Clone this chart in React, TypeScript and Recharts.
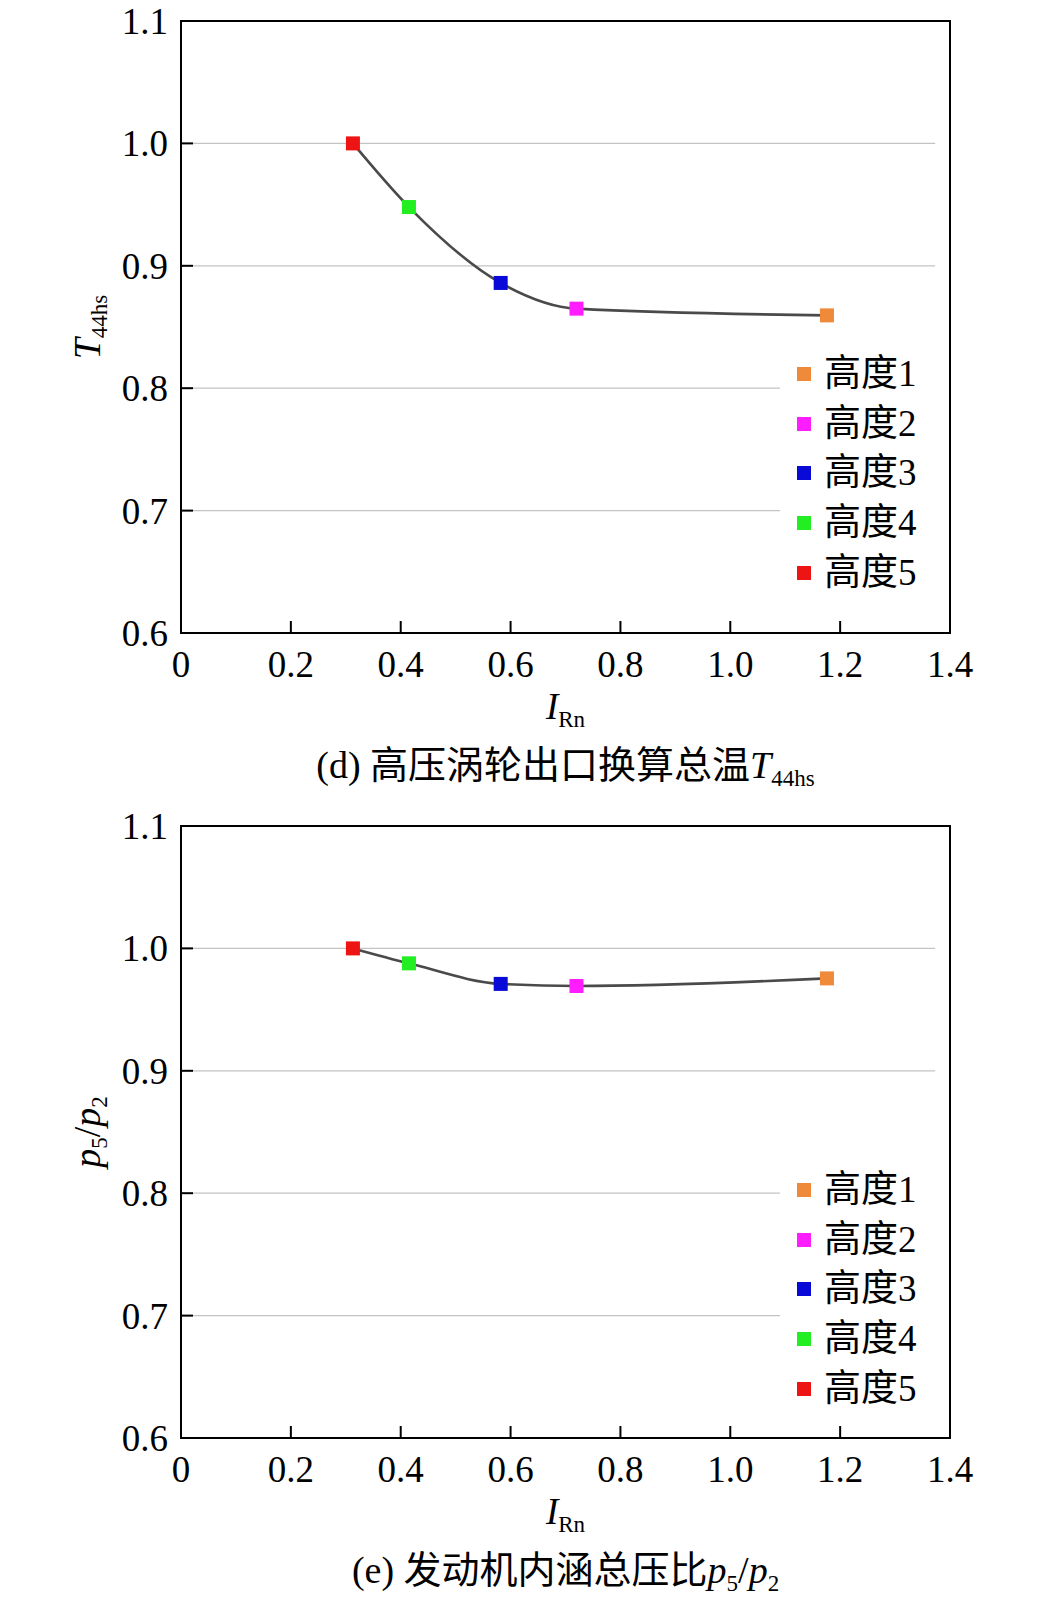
import React from 'react';
import { LineChart, Line, XAxis, YAxis, ReferenceLine, ReferenceArea, Legend } from 'recharts';

// altitude points, listed 高度1 .. 高度5
const altitudeNames = ['高度1', '高度2', '高度3', '高度4', '高度5'];
const altitudeColors = ['#ef8a3a', '#ff1cff', '#0a0ad8', '#22ee22', '#ee1414'];
const irnValues = [1.176, 0.72, 0.582, 0.415, 0.313];
const t44hsValues = [0.8595, 0.865, 0.886, 0.948, 1.0];
const p5p2Values = [0.9755, 0.9693, 0.971, 0.9878, 1.0];

const xTicks = [0, 0.2, 0.4, 0.6, 0.8, 1.0, 1.2, 1.4];
const yTicks = [0.6, 0.7, 0.8, 0.9, 1.0, 1.1];
const gridValues = [0.7, 0.8, 0.9, 1.0];

const FONT = '"Liberation Serif", "Noto Sans CJK SC", serif';
const GRID_END = 1.373;

const buildRows = (values: number[]) =>
  irnValues
    .map((x, i) => ({ x, y: values[i], color: altitudeColors[i] }))
    .sort((a, b) => a.x - b.x);

const XTick = (props: any) => {
  const { x, y, payload } = props;
  const v = payload.value as number;
  return (
    <g>
      <line x1={x} y1={y} x2={x} y2={y - 12} stroke="#000" strokeWidth={2} />
      <text x={x} y={y + 44} textAnchor="middle" fontSize={37} fontFamily={FONT} fill="#000">
        {v === 0 ? '0' : v.toFixed(1)}
      </text>
    </g>
  );
};

const YTick = (props: any) => {
  const { x, y, payload } = props;
  return (
    <g>
      <line x1={x} y1={y} x2={x + 12} y2={y} stroke="#000" strokeWidth={2} />
      <text x={x - 13} y={y + 13} textAnchor="end" fontSize={37} fontFamily={FONT} fill="#000">
        {(payload.value as number).toFixed(1)}
      </text>
    </g>
  );
};

const XTitle = (props: any) => {
  const vb = props.viewBox || { x: 181, y: 633, width: 769 };
  const cx = vb.x + vb.width / 2;
  return (
    <g fontFamily={FONT} fill="#000">
      <text x={cx} y={vb.y + 86} textAnchor="middle" fontSize={37}>
        <tspan fontStyle="italic">I</tspan>
        <tspan fontSize={23} dy={8}>Rn</tspan>
      </text>
      <text x={cx} y={vb.y + 145} textAnchor="middle" fontSize={38}>
        {props.caption}
      </text>
    </g>
  );
};

const YTitle = (props: any) => {
  const vb = props.viewBox || { x: 0, y: 21, width: 181, height: 612 };
  const bx = 100;
  const cy = vb.y + vb.height / 2;
  return (
    <text
      transform={`rotate(-90, ${bx}, ${cy})`}
      x={bx}
      y={cy}
      textAnchor="middle"
      fontSize={38}
      fontFamily={FONT}
      fill="#000"
    >
      {props.title}
    </text>
  );
};

const AltitudeLegend = () => (
  <div style={{ background: '#fff', width: 165 }}>
    {altitudeNames.map((name, i) => (
      <div key={name} style={{ display: 'flex', alignItems: 'center', height: 49.75 }}>
        <span
          style={{
            display: 'inline-block',
            width: 14,
            height: 14,
            background: altitudeColors[i],
            marginLeft: 17,
            marginRight: 13,
          }}
        />
        <span style={{ fontFamily: FONT, fontSize: 37, lineHeight: '40px', color: '#000' }}>{name}</span>
      </div>
    ))}
  </div>
);

const SquareDot = (props: any) => {
  const { cx, cy, payload, index } = props;
  return <rect key={`dot-${index}`} x={cx - 7} y={cy - 7} width={14} height={14} fill={payload.color} />;
};

interface PanelProps {
  values: number[];
  yTitle: React.ReactNode;
  caption: React.ReactNode;
  legendTop: number;
}

const Panel: React.FC<PanelProps> = ({ values, yTitle, caption, legendTop }) => (
  <LineChart
    width={1038}
    height={805}
    data={buildRows(values)}
    margin={{ top: 21, right: 88, left: 0, bottom: 0 }}
  >
    <XAxis
      dataKey="x"
      type="number"
      domain={[0, 1.4]}
      ticks={xTicks}
      interval={0}
      height={172}
      tickSize={0}
      tickMargin={0}
      tickLine={false}
      tick={<XTick />}
      axisLine={{ stroke: '#000', strokeWidth: 2 }}
      allowDataOverflow
      label={<XTitle caption={caption} />}
    />
    <YAxis
      type="number"
      domain={[0.6, 1.1]}
      ticks={yTicks}
      interval={0}
      width={181}
      tickSize={0}
      tickMargin={0}
      tickLine={false}
      tick={<YTick />}
      axisLine={{ stroke: '#000', strokeWidth: 2 }}
      allowDataOverflow
      label={<YTitle title={yTitle} />}
    />
    {gridValues.map((v) => (
      <ReferenceLine
        key={v}
        segment={[
          { x: 0, y: v },
          { x: GRID_END, y: v },
        ]}
        stroke="#c4c4c4"
        strokeWidth={1.2}
      />
    ))}
    <ReferenceArea x1={0} x2={1.4} y1={0.6} y2={1.1} fill="none" fillOpacity={0} stroke="#000" strokeWidth={2} />
    <Legend
      layout="horizontal"
      verticalAlign="middle"
      content={() => <AltitudeLegend />}
      wrapperStyle={{ left: 780, top: legendTop, width: 165 }}
    />
    <Line
      type="monotone"
      dataKey="y"
      stroke="#4a4a4a"
      strokeWidth={2.6}
      dot={SquareDot}
      activeDot={false}
      legendType="none"
      isAnimationActive={false}
    />
  </LineChart>
);

const subStyle = { fontSize: 23 };

export default function App() {
  return (
    <div style={{ position: 'absolute', left: 0, top: 0, width: 1038, background: '#fff' }}>
      <Panel
        values={t44hsValues}
        legendTop={349}
        yTitle={
          <>
            <tspan fontStyle="italic">T</tspan>
            <tspan {...subStyle} dy={7}>44hs</tspan>
          </>
        }
        caption={
          <>
            <tspan>(d) 高压涡轮出口换算总温</tspan>
            <tspan fontStyle="italic">T</tspan>
            <tspan {...subStyle} dy={8}>44hs</tspan>
          </>
        }
      />
      <Panel
        values={p5p2Values}
        legendTop={360}
        yTitle={
          <>
            <tspan fontStyle="italic">p</tspan>
            <tspan {...subStyle} dy={7}>5</tspan>
            <tspan dy={-7}>/</tspan>
            <tspan fontStyle="italic">p</tspan>
            <tspan {...subStyle} dy={7}>2</tspan>
          </>
        }
        caption={
          <>
            <tspan>(e) 发动机内涵总压比</tspan>
            <tspan fontStyle="italic">p</tspan>
            <tspan {...subStyle} dy={8}>5</tspan>
            <tspan dy={-8}>/</tspan>
            <tspan fontStyle="italic">p</tspan>
            <tspan {...subStyle} dy={8}>2</tspan>
          </>
        }
      />
    </div>
  );
}
